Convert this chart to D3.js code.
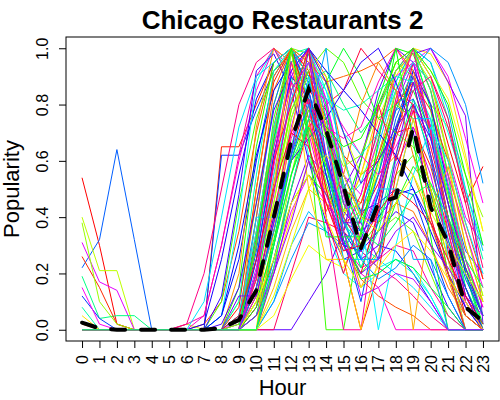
<!DOCTYPE html>
<html>
<head>
<meta charset="utf-8">
<script src="https://cdn.jsdelivr.net/npm/d3@7"></script>
<style>
    body { margin: 0; background: #fff; }
    text { font-family: "Liberation Sans", Arial, Helvetica, sans-serif; fill: #000; }
</style>
</head>
<body>
<div id="chart"></div>
<script>
// hours of the day (x categories) and y tick values
var hours = [0,1,2,3,4,5,6,7,8,9,10,11,12,13,14,15,16,17,18,19,20,21,22,23];
var yTicks = [0, 0.2, 0.4, 0.6, 0.8, 1.0];

// popularity by hour, one row per restaurant
var nightOwls = [
    [0.54,0.30,0.02,0,0,0,0,0,0,0,0.12,0.35,0.62,0.85,0.78,0.55,0.40,0.52,0.70,0.95,0.88,0.66,0.45,0.58],
    [0.22,0.32,0.64,0.32,0,0,0,0,0,0,0.05,0.30,0.60,0.82,0.70,0.45,0.32,0.48,0.75,0.90,0.72,0.50,0.28,0.20],
    [0.40,0.21,0.21,0,0,0,0.02,0,0,0.02,0.18,0.45,0.80,1.00,0.88,0.60,0.42,0.55,0.78,0.92,0.80,0.55,0.35,0.12],
    [0.31,0.17,0.14,0,0,0,0,0,0,0,0.08,0.40,0.72,0.95,0.82,0.52,0.35,0.50,0.80,1.00,0.85,0.62,0.40,0.30],
    [0.19,0.04,0.05,0.05,0,0,0,0,0,0,0.10,0.38,0.75,0.92,0.70,0.40,0.22,0.38,0.62,0.82,0.70,0.48,0.22,0.05],
    [0.26,0.15,0.02,0,0,0,0,0,0.65,0.65,0.80,0.95,1.00,0.90,0.75,0.62,0.55,0.60,0.70,0.72,0.58,0.35,0.10,0],
    [0.12,0.04,0,0,0,0,0,0,0.62,0.62,0.78,0.92,0.98,0.88,0.70,0.55,0.42,0.45,0.50,0.48,0.30,0.12,0,0],
    [0.38,0.10,0.02,0,0,0,0,0,0,0,0,0.22,0.55,0.80,0.75,0.48,0.30,0.45,0.72,0.90,0.80,0.72,0.55,0.40],
    [0.15,0.02,0,0,0,0,0,0,0,0,0.05,0.22,0.42,0.55,0.45,0.38,0.45,0.62,0.85,0.95,1.00,0.90,0.68,0.45],
    [0.08,0,0,0,0,0,0,0,0,0,0.12,0.35,0.60,0.72,0.58,0.45,0.52,0.70,0.88,1.00,0.95,0.75,0.48,0.25]
];
var lunchCrowd = [
    [0,0,0,0,0,0,0,0.02,0.10,0.35,0.70,0.95,1.00,0.85,0.55,0.30,0.18,0.12,0.08,0.05,0,0,0,0],
    [0,0,0,0,0,0,0,0,0.05,0.25,0.60,0.90,1.00,0.90,0.60,0.35,0.25,0.30,0.28,0.20,0.10,0,0,0],
    [0,0,0,0,0,0,0,0,0,0.10,0.45,0.80,1.00,0.98,0.72,0.45,0.30,0.35,0.40,0.35,0.20,0.05,0,0],
    [0,0,0,0,0,0,0,0.05,0.30,0.60,0.85,1.00,0.95,0.70,0.45,0.30,0.20,0.15,0,0,0,0,0,0],
    [0,0,0,0,0,0,0,0,0,0.05,0.30,0.70,0.95,1.00,0.80,0.50,0.28,0.22,0.25,0.20,0.12,0,0,0],
    [0.02,0,0,0,0,0,0,0,0,0,0.20,0.55,0.88,1.00,0.90,0.62,0.40,0.38,0.45,0.42,0.30,0.15,0.05,0],
    [0,0,0,0,0,0,0,0.02,0.25,0.55,0.82,0.95,1.00,0.85,0.60,0.42,0.35,0.40,0.48,0.50,0.38,0.20,0.05,0],
    [0,0,0,0,0,0,0,0,0.10,0.45,0.75,0.92,0.98,0.82,0.58,0.40,0.30,0.38,0.55,0.62,0.48,0.25,0.08,0],
    [0,0,0,0,0,0,0.02,0.05,0.30,0.62,0.90,1.00,0.92,0.75,0.50,0.30,0.22,0.25,0.30,0.28,0.15,0.05,0,0],
    [0,0,0,0,0,0,0,0,0.05,0.40,0.88,1.00,0.90,0.62,0.35,0.20,0.15,0.20,0.25,0.22,0.12,0,0,0],
    [0,0,0,0,0,0,0,0,0,0.20,0.72,1.00,0.95,0.72,0.48,0.38,0.42,0.55,0.62,0.55,0.38,0.18,0,0],
    [0,0,0,0,0,0,0,0,0.12,0.48,0.92,0.98,0.85,0.60,0.38,0.25,0.28,0.35,0.42,0.38,0.22,0.08,0,0],
    [0,0,0,0,0,0,0,0,0,0.15,0.65,0.95,1.00,0.80,0.52,0.32,0.20,0.28,0.45,0.58,0.50,0.32,0.15,0],
    [0,0,0,0,0,0,0.02,0.20,0.50,0.80,0.95,1.00,0.88,0.65,0.45,0.35,0.28,0.22,0.18,0.12,0.05,0,0,0],
    [0,0,0,0,0,0,0,0.10,0.40,0.72,0.90,0.95,1.00,0.82,0.55,0.38,0.30,0.25,0.20,0.15,0.08,0,0,0]
];
var dinnerCrowd = [
    [0,0,0,0,0,0,0,0,0,0,0,0.15,0.35,0.50,0.45,0.40,0.55,0.78,0.95,1.00,0.85,0.55,0.25,0.05],
    [0,0,0,0,0,0,0,0,0,0,0,0,0,0.10,0.20,0.35,0.60,0.85,1.00,0.95,0.70,0.40,0.15,0],
    [0,0,0,0,0,0,0,0,0,0,0.05,0.25,0.45,0.55,0.48,0.42,0.60,0.82,1.00,0.98,0.80,0.50,0.20,0.02],
    [0,0,0,0,0,0,0,0,0,0,0,0,0.20,0.40,0.38,0.35,0.48,0.72,0.92,1.00,0.90,0.75,0.45,0.18],
    [0,0,0,0,0,0,0,0,0,0,0,0.10,0.30,0.42,0.35,0.28,0.40,0.65,0.88,1.00,0.95,0.78,0.50,0.28],
    [0.05,0,0,0,0,0,0,0,0,0,0,0.20,0.40,0.60,0.50,0.42,0.55,0.75,0.90,1.00,0.98,0.88,0.62,0.35],
    [0,0,0,0,0,0,0,0,0,0,0,0.20,0.45,0.62,0.55,0.50,0.62,0.80,0.92,0.98,1.00,0.88,0.76,0.02],
    [0,0,0,0,0,0,0,0,0,0,0.10,0.30,0.55,0.75,0.88,1.00,0.90,0.75,0.80,0.85,0.70,0.45,0.20,0],
    [0,0,0,0,0,0,0,0,0,0,0.08,0.25,0.50,0.72,0.80,0.85,1.00,0.92,0.85,0.80,0.65,0.40,0.22,0.05],
    [0,0,0,0,0,0,0,0,0,0,0,0.10,0.25,0.38,0.35,0.30,0.42,0.60,0.78,0.92,1.00,0.95,0.80,0.52],
    [0,0,0,0,0,0,0,0,0,0,0,0.05,0.18,0.30,0.25,0.22,0.35,0.58,0.82,1.00,0.92,0.82,0.60,0.35]
];
var twoPeaks = [
    [0,0,0,0,0,0,0,0,0,0.02,0.25,0.62,0.90,1.00,0.75,0.45,0.32,0.50,0.80,0.95,0.72,0.40,0.12,0],
    [0,0,0,0,0,0,0,0,0,0,0.15,0.50,0.85,0.98,0.80,0.52,0.38,0.55,0.85,1.00,0.78,0.45,0.15,0.02],
    [0,0,0,0,0,0,0,0,0,0,0.35,0.72,1.00,0.92,0.60,0.30,0.20,0.42,0.70,0.88,0.62,0.28,0.05,0],
    [0,0,0,0,0,0,0,0,0,0.05,0.40,0.80,1.00,0.85,0.55,0.38,0.35,0.55,0.78,0.82,0.60,0.32,0.10,0],
    [0,0,0,0,0,0,0,0,0,0,0.10,0.40,0.75,0.95,0.90,0.70,0.55,0.62,0.85,1.00,0.90,0.60,0.30,0.10],
    [0,0,0,0,0,0,0,0,0,0,0.22,0.58,0.92,1.00,0.78,0.48,0.25,0.30,0.58,0.72,0.55,0.30,0.08,0],
    [0,0,0,0,0,0,0,0,0,0,0.05,0.30,0.65,0.88,0.92,0.80,0.70,0.78,0.92,1.00,0.85,0.55,0.20,0],
    [0,0,0,0,0,0,0,0,0,0.08,0.50,0.88,1.00,0.80,0.50,0.25,0,0.20,0.55,0.78,0.50,0.20,0,0],
    [0,0,0,0,0,0,0,0,0,0,0.28,0.68,0.95,1.00,0.68,0.32,0.10,0.40,0.72,0.90,0.68,0.40,0.18,0.05],
    [0,0,0,0,0,0,0,0,0,0,0.12,0.45,0.78,0.90,0.68,0.42,0.45,0.68,0.92,0.98,0.88,0.62,0.35,0.12],
    [0,0,0,0,0,0,0,0,0,0.03,0.32,0.70,0.95,1.00,0.82,0.55,0.48,0.68,0.90,0.95,0.80,0.52,0.25,0.08],
    [0,0,0,0,0,0,0,0,0,0,0.25,0.65,0.98,1.00,0.75,0.40,0.22,0.35,0.60,0.80,0.62,0.38,0.15,0.02],
    [0,0,0,0,0,0,0,0,0,0,0.18,0.52,0.82,0.92,0.70,0.50,0.45,0.62,0.80,0.88,0.78,0.60,0.38,0.18],
    [0,0,0,0,0,0,0,0,0,0,0.25,0.62,0.90,0.82,0.55,0.30,0.28,0.48,0.70,0.92,0.80,0.50,0.20,0.05],
    [0,0,0,0,0,0,0,0,0,0.02,0.30,0.70,1.00,0.95,0.72,0.58,0.62,0.78,0.95,0.90,0.72,0.48,0.22,0.05],
    [0,0,0,0,0,0,0,0,0,0,0.12,0.38,0.68,0.85,0.82,0.72,0.62,0.55,0.65,0.78,0.72,0.55,0.35,0.15]
];
var allDay = [
    [0,0,0,0,0,0,0,0,0,0.10,0.55,0.92,1.00,0.90,0.82,0.78,0.80,0.85,0.90,0.88,0.75,0.50,0.25,0.05],
    [0,0,0,0,0,0,0,0,0,0,0.40,0.85,1.00,0.95,0.88,0.90,0.92,0.95,1.00,0.92,0.70,0.40,0.12,0],
    [0,0,0,0,0,0,0,0,0.05,0.30,0.62,0.85,0.95,1.00,0.92,0.85,0.78,0.70,0.62,0.50,0.35,0.20,0.08,0],
    [0,0,0,0,0,0,0,0,0,0,0.20,0.50,0.78,0.92,1.00,0.95,0.82,0.75,0.70,0.65,0.52,0.35,0.22,0.10],
    [0,0,0,0,0,0,0,0,0,0,0.30,0.65,0.88,0.80,0.72,0.68,0.72,0.88,1.00,0.90,0.72,0.45,0.25,0.08],
    [0,0,0,0,0,0,0,0,0,0.05,0.35,0.72,0.95,1.00,0.85,0.70,0.62,0.70,0.85,0.95,0.88,0.70,0.50,0.30],
    [0,0,0,0,0,0,0,0,0,0,0.50,0.90,1.00,0.75,0.42,0.55,0.80,0.95,0.85,0.62,0.40,0.20,0.05,0],
    [0,0,0,0,0,0,0,0,0,0,0.15,0.40,0.60,0.68,0.75,0.85,0.95,1.00,0.88,0.70,0.48,0.30,0.15,0]
];
var mixedHours = [
    [0,0,0,0,0,0,0,0,0,0,0.30,0.75,1.00,0.70,0,0,0.35,0.60,0.80,0.75,0.50,0.20,0,0],
    [0,0,0,0,0,0,0,0,0,0,0.18,0.60,0.95,0.80,0.40,0,0,0.45,0.82,1.00,0.70,0.35,0.10,0],
    [0,0,0,0,0,0,0,0,0,0,0.20,0.55,0.82,0.95,0.85,0.62,0.40,0,0.30,0.55,0.72,0.60,0.38,0.20],
    [0,0,0,0,0,0,0,0,0,0,0,0.35,0.70,1.00,0.72,0.35,0.15,0.28,0.50,0,0.42,0.58,0.30,0.10],
    [0,0,0,0,0,0,0,0,0.02,0.15,0.45,0.78,0.92,1.00,0.88,0.70,0.52,0.60,0.72,0.80,0.68,0.45,0.22,0.05],
    [0,0,0,0,0,0,0,0,0,0,0.08,0.32,0.60,0.78,0.72,0.65,0.68,0.80,0.95,1.00,0.92,0.80,0.55,0.30],
    [0,0,0,0,0,0,0,0,0,0,0.15,0.42,0.70,0.82,0.62,0.40,0.30,0.45,0.68,0.85,0.90,0.72,0.48,0.22],
    [0,0,0,0,0,0,0,0,0,0,0.40,0.40,0.62,0.90,0.62,0.25,0.25,0.50,0.50,0.75,0.75,0.25,0,0],
    [0,0,0,0,0,0,0,0,0,0,0,0.50,1.00,0.50,0.25,0.25,0,0.25,0.50,0.75,0.50,0.25,0,0],
    [0,0,0,0,0,0,0,0,0,0.12,0.12,0.38,0.62,1.00,0.62,0.38,0.38,0.25,0.62,0.88,0.62,0.38,0.12,0],
    [0,0,0,0,0,0,0,0,0,0,0.33,0.67,1.00,0.67,0.33,0.33,0.33,0.67,1.00,0.67,0.33,0,0,0],
    [0,0,0,0,0,0,0,0,0,0,0.20,0.60,0.80,1.00,0.40,0.20,0.40,0.80,0.60,0.80,0.40,0.20,0,0],
    [0,0,0,0,0,0,0,0,0,0,0,0.25,0.50,0.75,1.00,0.50,0.25,0.25,0.50,0.25,0.25,0,0,0]
];
var lowTraffic = [
    [0,0,0,0,0,0,0,0,0,0,0.10,0.25,0.45,0.55,0.40,0.25,0.15,0.22,0.30,0.35,0.28,0.18,0.10,0],
    [0,0,0,0,0,0,0,0,0,0,0.05,0.20,0.38,0.60,0.48,0.30,0.20,0.25,0.35,0.40,0.30,0.22,0.12,0.05],
    [0,0,0,0,0,0,0,0,0,0,0,0.30,0.55,0.72,0.58,0.35,0.18,0.20,0.25,0.22,0.15,0.08,0,0],
    [0,0,0,0,0,0,0,0,0,0.05,0.25,0.50,0.70,0.65,0.45,0.28,0.30,0.42,0.50,0.45,0.38,0.25,0.12,0.02],
    [0,0,0,0,0,0,0,0,0,0,0.15,0.35,0.62,0.80,0.60,0.38,0.25,0.18,0.22,0.30,0.25,0.12,0,0],
    [0,0,0,0,0,0,0,0,0,0,0,0.12,0.30,0.50,0.62,0.55,0.40,0.35,0.45,0.55,0.42,0.30,0.20,0.10],
    [0,0,0,0,0,0,0,0,0,0,0.20,0.48,0.85,0.95,0.70,0.35,0.12,0.15,0.20,0.18,0.10,0,0,0],
    [0,0,0,0,0,0,0,0,0,0,0,0.22,0.50,0.75,0.68,0.50,0.35,0.30,0.38,0.48,0.52,0.40,0.25,0.15]
];

// average over all restaurants (the dashed black line)
var meanPopularity = [0.025,0.005,0,0,0,0,0,0,0.005,0.035,0.14,0.40,0.67,0.855,0.71,0.51,0.29,0.45,0.47,0.72,0.435,0.31,0.08,0.03];

var width = 500,
    height = 400,
    plot = {left: 66, right: 499, top: 37, bottom: 341};

var restaurants = nightOwls.concat(lunchCrowd, dinnerCrowd, twoPeaks, allDay, mixedHours, lowTraffic);
var n = restaurants.length;

var svg = d3.select("#chart").append("svg")
    .attr("width", width)
    .attr("height", height);

// R pads each axis by 4% of the data range
var x = d3.scaleLinear()
    .domain([-0.04 * 23, 23 * 1.04])
    .range([plot.left, plot.right]);

var y = d3.scaleLinear()
    .domain([-0.04, 1.04])
    .range([plot.bottom, plot.top]);

var line = d3.line()
    .x(function(d, i) { return x(hours[i]); })
    .y(function(d) { return y(d); });

// rainbow colours, spread so neighbouring rows get different hues
function rainbow(i) {
    var h = ((i * 49) % n) / n * 360;
    return d3.hsl(h, 1, 0.5).toString();
}

svg.append("g")
    .attr("class", "restaurants")
    .selectAll("path")
    .data(restaurants)
    .enter()
    .append("path")
    .attr("d", line)
    .attr("fill", "none")
    .attr("stroke", function(d, i) { return rainbow(i); })
    .attr("stroke-width", 1);

svg.append("path")
    .datum(meanPopularity)
    .attr("d", line)
    .attr("fill", "none")
    .attr("stroke", "#000")
    .attr("stroke-width", 4)
    .attr("stroke-linecap", "round")
    .attr("stroke-dasharray", "14 16");

// box round the plot region
svg.append("rect")
    .attr("x", plot.left)
    .attr("y", plot.top)
    .attr("width", plot.right - plot.left)
    .attr("height", plot.bottom - plot.top)
    .attr("fill", "none")
    .attr("stroke", "#000")
    .attr("stroke-width", 1);

// y axis
var yAxis = svg.append("g")
    .attr("transform", "translate(" + plot.left + ",0)")
    .call(d3.axisLeft(y).tickValues(yTicks).tickFormat(d3.format(".1f")).tickSize(7));
yAxis.select(".domain").remove();
yAxis.selectAll("line").attr("stroke", "#000");
yAxis.selectAll("text")
    .attr("x", null)
    .attr("dy", null)
    .attr("text-anchor", "middle")
    .attr("transform", "translate(-18,0) rotate(-90)")
    .style("font-size", "16px")
    .style("font-family", "'Liberation Sans', Arial, sans-serif");

// x axis
var xAxis = svg.append("g")
    .attr("transform", "translate(0," + plot.bottom + ")")
    .call(d3.axisBottom(x).tickValues(hours).tickFormat(d3.format("d")).tickSize(7));
xAxis.select(".domain").remove();
xAxis.selectAll("line").attr("stroke", "#000");
xAxis.selectAll("text")
    .attr("y", null)
    .attr("dy", null)
    .attr("text-anchor", "end")
    .attr("transform", "translate(5.5,14) rotate(-90)")
    .style("font-size", "16px")
    .style("font-family", "'Liberation Sans', Arial, sans-serif");

// titles
svg.append("text")
    .attr("x", (plot.left + plot.right) / 2)
    .attr("y", 29)
    .attr("text-anchor", "middle")
    .style("font-size", "26px")
    .style("font-weight", "bold")
    .text("Chicago Restaurants 2");

svg.append("text")
    .attr("x", (plot.left + plot.right) / 2)
    .attr("y", 395)
    .attr("text-anchor", "middle")
    .style("font-size", "22px")
    .text("Hour");

svg.append("text")
    .attr("transform", "translate(19," + (plot.top + plot.bottom) / 2 + ") rotate(-90)")
    .attr("text-anchor", "middle")
    .style("font-size", "22px")
    .text("Popularity");
</script>
</body>
</html>
